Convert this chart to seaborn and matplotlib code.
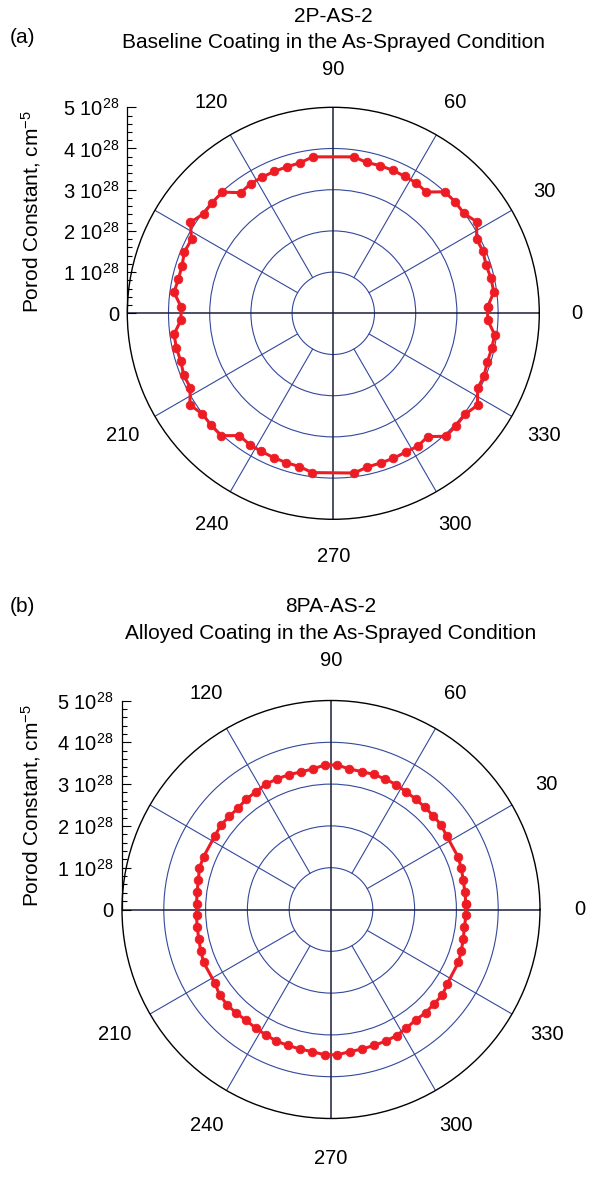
import numpy as np
import pandas as pd
import matplotlib
matplotlib.use("Agg")
import matplotlib.pyplot as plt
from matplotlib.ticker import MultipleLocator
import seaborn as sns

sns.set_style("white")
plt.rcParams["font.family"] = ["Liberation Sans", "DejaVu Sans"]
plt.rcParams["mathtext.fontset"] = "custom"
plt.rcParams["mathtext.rm"] = "Liberation Sans"
plt.rcParams["mathtext.it"] = "Liberation Sans:italic"
plt.rcParams["mathtext.bf"] = "Liberation Sans:bold"
for key in ["text.color", "axes.labelcolor", "xtick.color", "ytick.color"]:
    plt.rcParams[key] = "black"

# Azimuthal sector centres (degrees) and Porod constants (units of 1e28 cm^-5)
angles_a = [2.5, 7.5, 12.5, 17.5, 22.5, 27.5, 32.5, 37.5, 42.5, 47.5, 52.5, 57.5,
            62.5, 67.5, 72.5, 77.5, 82.5,
            97.5, 102.5, 107.5, 112.5, 117.5, 122.5, 127.5, 132.5, 137.5, 142.5,
            147.5, 152.5, 157.5, 162.5, 167.5, 172.5, 177.5,
            182.5, 187.5, 192.5, 197.5, 202.5, 207.5, 212.5, 217.5, 222.5, 227.5,
            232.5, 237.5, 242.5, 247.5, 252.5, 257.5, 262.5,
            277.5, 282.5, 287.5, 292.5, 297.5, 302.5, 307.5, 312.5, 317.5, 322.5,
            327.5, 332.5, 337.5, 342.5, 347.5, 352.5, 357.5]
porod_a = [3.75, 3.93, 3.92, 3.89, 3.93, 3.92, 4.13, 3.99, 4.01, 4.00, 3.71, 3.75,
           3.75, 3.76, 3.76, 3.75, 3.83,
           3.83, 3.74, 3.73, 3.73, 3.73, 3.73, 3.69, 3.99, 3.98, 3.97,
           4.11, 3.88, 3.91, 3.85, 3.85, 3.90, 3.70,
           3.70, 3.90, 3.90, 3.88, 3.93, 3.91, 4.13, 4.01, 4.02, 4.03,
           3.74, 3.78, 3.78, 3.79, 3.80, 3.81, 3.90,
           3.91, 3.82, 3.81, 3.81, 3.80, 3.82, 3.77, 4.05, 4.04, 4.03,
           4.15, 3.95, 3.96, 3.92, 3.94, 3.95, 3.75]

angles_b = [2.5, 7.5, 12.5, 17.5, 22.5, 32.5, 37.5, 42.5, 47.5, 52.5, 57.5, 62.5,
            67.5, 72.5, 77.5, 82.5, 87.5,
            92.5, 97.5, 102.5, 107.5, 112.5, 117.5, 122.5, 127.5, 132.5, 137.5,
            142.5, 147.5, 157.5, 162.5, 167.5, 172.5, 177.5,
            182.5, 187.5, 192.5, 197.5, 202.5, 212.5, 217.5, 222.5, 227.5, 232.5,
            237.5, 242.5, 247.5, 252.5, 257.5, 262.5, 267.5,
            272.5, 277.5, 282.5, 287.5, 292.5, 297.5, 302.5, 307.5, 312.5, 317.5,
            322.5, 327.5, 337.5, 342.5, 347.5, 352.5, 357.5]
porod_b = [3.23, 3.23, 3.24, 3.27, 3.29, 3.28, 3.32, 3.32, 3.32, 3.33, 3.34, 3.37,
           3.38, 3.39, 3.38, 3.39, 3.46,
           3.46, 3.39, 3.37, 3.38, 3.38, 3.38, 3.34, 3.33, 3.29, 3.30,
           3.32, 3.29, 3.30, 3.30, 3.25, 3.23, 3.22,
           3.22, 3.23, 3.24, 3.27, 3.30, 3.29, 3.36, 3.37, 3.36, 3.34,
           3.36, 3.38, 3.41, 3.41, 3.42, 3.43, 3.48,
           3.48, 3.43, 3.42, 3.41, 3.41, 3.40, 3.36, 3.33, 3.35, 3.34,
           3.36, 3.30, 3.30, 3.27, 3.24, 3.22, 3.23]

SCALE = 1e28
r_ticks = [0, 1, 2, 3, 4, 5]
r_tick_labels = ["0", "1 10$^{28}$", "2 10$^{28}$", "3 10$^{28}$",
                 "4 10$^{28}$", "5 10$^{28}$"]
theta_ticks = [0, 30, 60, 90, 120, 150, 180, 210, 240, 270, 300, 330]
theta_labels = ["0", "30", "60", "90", "120", "", "", "210", "240", "270", "300", "330"]

RED = "#ED1C24"
BLUE = "#34489C"
AXIS = "#1B1E3C"

W, H = 595, 1177
fig = plt.figure(figsize=(W / 100, H / 100), dpi=100)


def panel(cx, cy, rad, angles, values, tag, sample, desc, tag_y, title_y, label_pad,
          ylab_y):
    ax = fig.add_axes([(cx - rad) / W, (H - cy - rad) / H, 2 * rad / W, 2 * rad / H],
                      projection="polar")
    df = pd.DataFrame({"theta": np.deg2rad(angles),
                       "porod": np.asarray(values) * SCALE})
    df = pd.concat([df, df.iloc[:1]], ignore_index=True)

    # grid circles and spokes
    ax.set_rgrids([v * SCALE for v in r_ticks[1:5]], labels=[""] * 4)
    ax.yaxis.grid(True, color=BLUE, lw=0.8)
    ax.set_thetagrids(theta_ticks, theta_labels)
    ax.xaxis.grid(False)
    for t in [30, 60, 120, 150, 210, 240, 300, 330]:
        ax.plot([np.deg2rad(t)] * 2, [1 * SCALE, 5 * SCALE], color=BLUE, lw=0.8,
                zorder=1)
    ax.plot([0, 0, np.pi], [5 * SCALE, 0, 5 * SCALE], color=AXIS, lw=1.1, zorder=2)
    ax.plot([np.pi / 2, 0, 3 * np.pi / 2], [5 * SCALE, 0, 5 * SCALE], color=AXIS,
            lw=1.1, zorder=2)

    sns.lineplot(data=df, x="theta", y="porod", ax=ax, sort=False, estimator=None,
                 color=RED, lw=2.2, marker="o", markersize=6.3, markeredgecolor=RED,
                 markeredgewidth=0.5, zorder=5)
    ax.set_xlabel("")
    ax.set_ylabel("")
    ax.set_ylim(0, 5 * SCALE)
    ax.spines["polar"].set_color("black")
    ax.spines["polar"].set_linewidth(1.0)
    ax.tick_params(axis="x", pad=label_pad, labelsize=14.5, length=0)
    ax.tick_params(axis="y", length=0)

    # radial scale drawn as a vertical axis on the left edge
    axr = fig.add_axes([(cx - rad) / W, (H - cy) / H, 0.02, rad / H])
    axr.patch.set_alpha(0)
    for s in ["top", "right", "bottom"]:
        axr.spines[s].set_visible(False)
    axr.spines["left"].set_linewidth(0.9)
    axr.spines["left"].set_color("black")
    axr.set_ylim(0, 5 * SCALE)
    axr.set_xticks([])
    axr.set_yticks([v * SCALE for v in r_ticks], r_tick_labels)
    axr.yaxis.set_minor_locator(MultipleLocator(0.2 * SCALE))
    axr.tick_params(axis="y", which="major", direction="in", length=6.5, width=0.8,
                    pad=6, labelsize=14.5, left=True)
    axr.tick_params(axis="y", which="minor", direction="in", length=3.6, width=0.8,
                    left=True)

    fig.text(31 / W, 1 - ylab_y / H, "Porod Constant, cm$^{-5}$", rotation=90,
             ha="center", va="center", fontsize=15)
    fig.text(10 / W, 1 - tag_y / H, tag, ha="left", va="baseline", fontsize=15)
    fig.text(cx / W, 1 - title_y / H, sample, ha="center", va="baseline", fontsize=15)
    fig.text(cx / W, 1 - (title_y + 27) / H, desc, ha="center", va="baseline",
             fontsize=15)


panel(333.3, 313.3, 206, angles_a, porod_a, "(a)", "2P-AS-2",
      "Baseline Coating in the As-Sprayed Condition", 43, 21.5, 20, 212)
panel(331, 909.5, 209, angles_b, porod_b, "(b)", "8PA-AS-2",
      "Alloyed Coating in the As-Sprayed Condition", 612.5, 612, 22, 806)

fig.savefig("out.png", dpi=100)
